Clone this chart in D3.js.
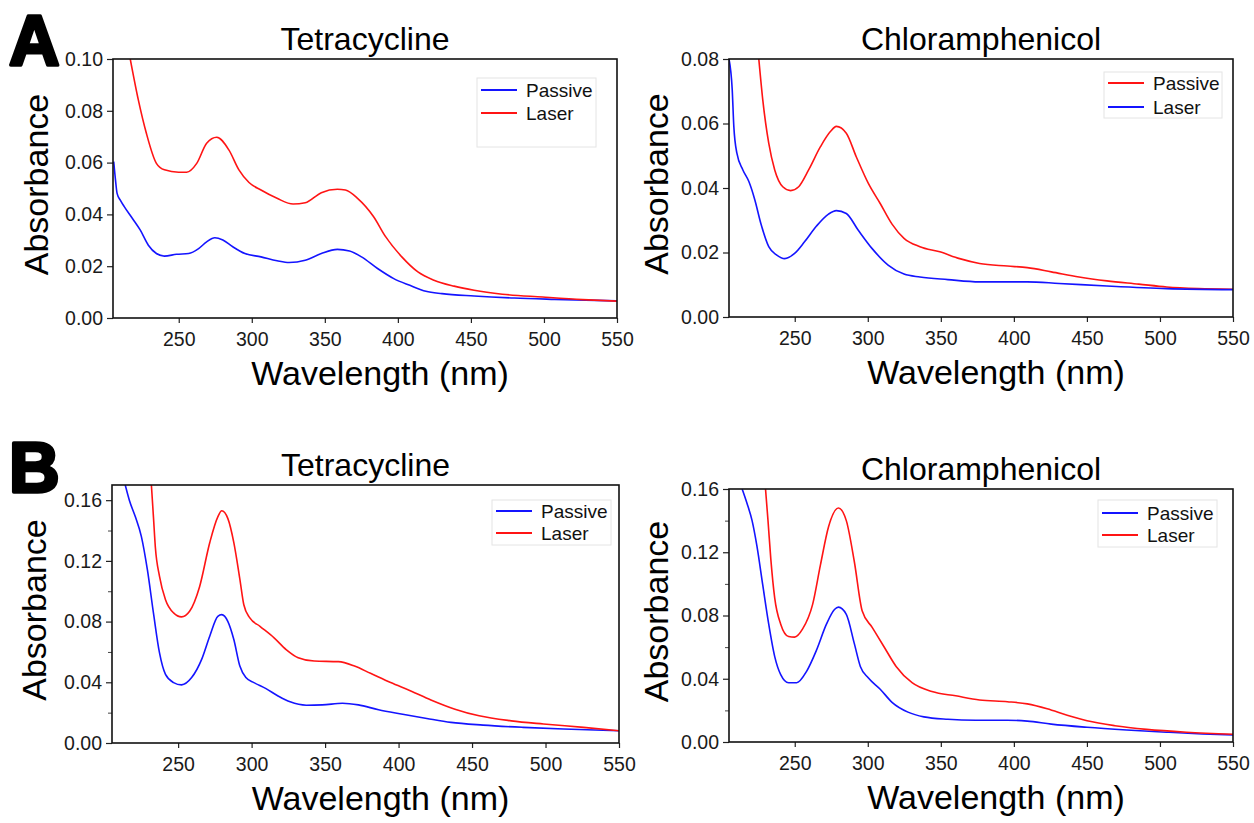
<!DOCTYPE html>
<html>
<head>
<meta charset="utf-8">
<script src="https://cdn.jsdelivr.net/npm/d3@7"></script>
<style>
  html, body { margin: 0; padding: 0; background: #fff; }
  svg { display: block; font-family: "Liberation Sans", Arial, sans-serif; }
</style>
</head>
<body>
<svg id="chart" width="1254" height="823"></svg>
<script>
// ---------------- DATA ----------------
const wavelengthTicks = [250, 300, 350, 400, 450, 500, 550];
const absTicksA_tet = [0.00, 0.02, 0.04, 0.06, 0.08, 0.10];
const absTicksA_chl = [0.00, 0.02, 0.04, 0.06, 0.08];
const absTicksB = [0.00, 0.04, 0.08, 0.12, 0.16];
const absMinorB = [0.02, 0.06, 0.10, 0.14];
const seriesNames = ["Passive", "Laser"];
const titles = ["Tetracycline", "Chloramphenicol"];
const panelLetters = ["A", "B"];

// Panel A, Tetracycline  [wavelength nm, absorbance]
const tetA_passive = [[205.5,0.0604],[206.7,0.0533],[207.8,0.0481],[210,0.0455],[212.7,0.0430],[218.2,0.0385],[223.7,0.0339],[229.2,0.0281],[234.7,0.0249],[240.2,0.0239],[248.5,0.0246],[256.8,0.0249],[263.6,0.0268],[269.1,0.0294],[274.7,0.0310],[280.2,0.0301],[287,0.0275],[295.3,0.0249],[306.3,0.0236],[317.3,0.0221],[325.6,0.0214],[336.6,0.0223],[347.6,0.0249],[358.6,0.0265],[366.9,0.0259],[375.1,0.0236],[386.1,0.0191],[397.2,0.0152],[408.2,0.0126],[419.2,0.0103],[430.2,0.0094],[452.2,0.0085],[479.7,0.0077],[507.3,0.0072],[550,0.0066]];
const tetA_laser = [[216.8,0.100],[222.3,0.0843],[227.8,0.0714],[234.7,0.0597],[240.2,0.0572],[249.9,0.0563],[255.4,0.0563],[262.3,0.0597],[269.1,0.0675],[276,0.0698],[284.3,0.0649],[291.2,0.0572],[298.1,0.0523],[306.3,0.0494],[317.3,0.0462],[328.3,0.0440],[336.6,0.0445],[347.6,0.0484],[358.6,0.0497],[364.1,0.0494],[372.4,0.0462],[383.4,0.0391],[391.6,0.0314],[402.7,0.0236],[413.7,0.0178],[424.7,0.0146],[438.5,0.0123],[452.2,0.0107],[471.5,0.0092],[499,0.0081],[526.5,0.0071],[550,0.0065]];

// Panel A, Chloramphenicol
const chlA_passive = [[225.4,0.080],[228.1,0.0674],[232.2,0.0539],[236.3,0.0456],[241.8,0.0404],[247.2,0.0392],[252.7,0.0404],[259.5,0.0456],[267.6,0.0528],[274.4,0.0575],[278.5,0.0591],[285.3,0.0570],[292.1,0.0497],[300.3,0.0415],[308.5,0.0352],[316.6,0.0288],[324.8,0.0244],[335.7,0.0218],[349.3,0.0202],[362.9,0.0181],[376.5,0.0166],[395.6,0.0158],[409.2,0.0153],[425.6,0.0140],[444.6,0.0124],[463.7,0.0112],[485.5,0.0102],[504.6,0.0093],[526.3,0.0088],[550,0.0086]];
const chlA_laser = [[205,0.080],[207.2,0.0705],[208.3,0.0591],[210.4,0.0508],[214.5,0.0456],[218.6,0.0420],[222.7,0.0363],[226.8,0.0290],[232.2,0.0218],[237.7,0.0192],[243.1,0.0181],[249.9,0.0197],[256.7,0.0233],[264.9,0.0282],[273.1,0.0319],[278.5,0.0330],[285.3,0.0321],[293.5,0.0269],[303,0.0212],[313.9,0.0161],[324.8,0.0133],[335.7,0.0124],[354.8,0.0116],[376.5,0.0109],[409.2,0.0109],[431,0.0104],[463.7,0.0096],[504.6,0.0088],[550,0.0085]];

// Panel B, Tetracycline
const tetB_passive = [[214,0.170],[216.8,0.160],[220.9,0.149],[225,0.136],[229.1,0.114],[233.2,0.0857],[237.3,0.0595],[241.4,0.0452],[246.9,0.0398],[252.3,0.0383],[259.2,0.0431],[266,0.0551],[271.5,0.0704],[277,0.0835],[279.7,0.0846],[283.8,0.0802],[287.9,0.0682],[292,0.0507],[296.1,0.0431],[301.6,0.0398],[309.8,0.0358],[318,0.0310],[326.2,0.0271],[337.2,0.0249],[348.1,0.0251],[361.8,0.0262],[372.7,0.0251],[386.4,0.0219],[402.8,0.0190],[419.2,0.0162],[435.6,0.0136],[457.5,0.0118],[484.9,0.0103],[512.3,0.0092],[550,0.0081]];
const tetB_laser = [[231.8,0.170],[233.2,0.149],[234.5,0.129],[237.3,0.110],[241.4,0.0944],[246.9,0.0857],[252.3,0.0831],[257.8,0.0868],[264.6,0.103],[271.5,0.132],[277,0.149],[279.7,0.153],[283.8,0.148],[287.9,0.132],[292,0.108],[294.7,0.0911],[298.8,0.0824],[305.7,0.0769],[315.3,0.0693],[323.5,0.0616],[331.7,0.0562],[342.6,0.0540],[359,0.0536],[370,0.0507],[380.9,0.0459],[394.6,0.0398],[408.3,0.0343],[422,0.0284],[438.4,0.0223],[454.8,0.0179],[476.7,0.0146],[498.6,0.0125],[525.9,0.0103],[550,0.0081]];

// Panel B, Chloramphenicol
const chlB_passive = [[214,0.160],[217.3,0.151],[220.8,0.140],[224.1,0.124],[228.1,0.0993],[232.2,0.0745],[236.3,0.0540],[240.4,0.0426],[245.8,0.0375],[251.3,0.0375],[258.1,0.0447],[264.9,0.0581],[271.7,0.0745],[277.2,0.0838],[279.9,0.0853],[285.3,0.0807],[290.8,0.0622],[294.9,0.0478],[300.3,0.0406],[308.5,0.0334],[316.6,0.0251],[327.5,0.0189],[338.4,0.0159],[354.8,0.0144],[373.8,0.0138],[395.6,0.0138],[409.2,0.0132],[425.6,0.0113],[450.1,0.0093],[477.3,0.0076],[504.5,0.0062],[529,0.0051],[550,0.0045]];
const chlB_laser = [[230,0.160],[231.7,0.140],[233.6,0.116],[236.3,0.0910],[240.4,0.0745],[245.8,0.0667],[249.9,0.0663],[255.4,0.0715],[262.2,0.0869],[267.6,0.112],[273.1,0.136],[279.9,0.148],[285.3,0.140],[290.8,0.114],[296.2,0.0828],[303,0.0725],[311.2,0.0601],[319.4,0.0478],[330.3,0.0375],[343.9,0.0319],[360.2,0.0292],[376.5,0.0266],[395.6,0.0255],[409.2,0.0241],[422.8,0.0210],[436.5,0.0169],[450.1,0.0134],[469.1,0.0103],[490.9,0.0080],[518.1,0.0062],[550,0.0049]];

// ---------------- LAYOUT ----------------
const BLUE = "#1414ff", RED = "#ff1414";
const xDomain = [205, 550];
const panels = [
  { title: titles[0], letter: panelLetters[0], frame: {l:113, r:617, t:59, b:318}, yMax: 0.10, yTicks: absTicksA_tet, yMinor: [], fmt: ".2f",
    series: [{name: seriesNames[0], color: BLUE, data: tetA_passive}, {name: seriesNames[1], color: RED, data: tetA_laser}],
    legend: {x:477, y:78, w:119, h:69, row0:90, gap:23}, ylabX: 48 },
  { title: titles[1], frame: {l:729, r:1233, t:59, b:317}, yMax: 0.08, yTicks: absTicksA_chl, yMinor: [], fmt: ".2f",
    series: [{name: seriesNames[0], color: RED, data: chlA_passive}, {name: seriesNames[1], color: BLUE, data: chlA_laser}],
    legend: {x:1104, y:72, w:118, h:46, row0:83, gap:24}, ylabX: 668 },
  { title: titles[0], letter: panelLetters[1], frame: {l:112, r:619, t:485, b:743}, yMax: 0.17, yTicks: absTicksB, yMinor: absMinorB, fmt: ".2f",
    series: [{name: seriesNames[0], color: BLUE, data: tetB_passive}, {name: seriesNames[1], color: RED, data: tetB_laser}],
    legend: {x:492, y:500, w:119, h:45, row0:511, gap:22}, ylabX: 46 },
  { title: titles[1], frame: {l:729, r:1233, t:489, b:742}, yMax: 0.16, yTicks: absTicksB, yMinor: absMinorB, fmt: ".2f",
    series: [{name: seriesNames[0], color: BLUE, data: chlB_passive}, {name: seriesNames[1], color: RED, data: chlB_laser}],
    legend: {x:1098, y:500, w:119, h:47, row0:513, gap:22}, ylabX: 668 }
];

const svg = d3.select("#chart");
svg.append("rect").attr("width", 1254).attr("height", 823).attr("fill", "#fff");

panels.forEach((p, i) => {
  const f = p.frame;
  const x = d3.scaleLinear().domain(xDomain).range([f.l, f.r]);
  const y = d3.scaleLinear().domain([0, p.yMax]).range([f.b, f.t]);
  const g = svg.append("g");

  const clipId = "clip" + i;
  svg.append("clipPath").attr("id", clipId)
    .append("rect").attr("x", f.l).attr("y", f.t).attr("width", f.r - f.l).attr("height", f.b - f.t);

  // lines
  const line = d3.line().x(d => x(d[0])).y(d => y(d[1])).curve(d3.curveMonotoneX);
  p.series.forEach(s => {
    g.append("path").datum(s.data)
      .attr("clip-path", `url(#${clipId})`)
      .attr("fill", "none").attr("stroke", s.color)
      .attr("stroke-width", 1.6).attr("stroke-linejoin", "round")
      .attr("d", line);
  });

  // x axis
  const xa = g.append("g").attr("transform", `translate(0,${f.b})`)
    .call(d3.axisBottom(x).tickValues(wavelengthTicks).tickSize(5).tickPadding(9).tickFormat(d3.format("d")));
  xa.select(".domain").remove();
  xa.selectAll("line").attr("stroke", "#222").attr("stroke-width", 1.2);
  xa.selectAll("text").attr("font-size", 19.5).attr("fill", "#1a1a1a")
    .attr("font-family", "Liberation Sans, Arial, sans-serif");

  // y axis
  const ya = g.append("g").attr("transform", `translate(${f.l},0)`)
    .call(d3.axisLeft(y).tickValues(p.yTicks).tickSize(6).tickPadding(4).tickFormat(d3.format(p.fmt)));
  ya.select(".domain").remove();
  ya.selectAll("line").attr("stroke", "#222").attr("stroke-width", 1.2);
  ya.selectAll("text").attr("font-size", 19.5).attr("fill", "#1a1a1a")
    .attr("font-family", "Liberation Sans, Arial, sans-serif");
  if (p.yMinor.length) {
    const ym = g.append("g").attr("transform", `translate(${f.l},0)`)
      .call(d3.axisLeft(y).tickValues(p.yMinor).tickSize(4).tickFormat(""));
    ym.select(".domain").remove();
    ym.selectAll("line").attr("stroke", "#444").attr("stroke-width", 1);
  }

  // frame
  g.append("rect").attr("x", f.l).attr("y", f.t).attr("width", f.r - f.l).attr("height", f.b - f.t)
    .attr("fill", "none").attr("stroke", "#111").attr("stroke-width", 1.6);

  // title
  g.append("text").attr("x", (f.l + f.r) / 2).attr("y", f.t - 9)
    .attr("text-anchor", "middle").attr("font-size", 32).attr("fill", "#000").text(p.title);

  // x label
  g.append("text").attr("x", (f.l + f.r) / 2 + 15).attr("y", f.b + 67)
    .attr("text-anchor", "middle").attr("font-size", 34).attr("fill", "#000").text("Wavelength (nm)");

  // y label
  g.append("text").attr("transform", `translate(${p.ylabX},${(f.t + f.b) / 2 - 4}) rotate(-90)`)
    .attr("text-anchor", "middle").attr("font-size", 34).attr("fill", "#000").text("Absorbance");

  // legend
  const L = p.legend;
  g.append("rect").attr("x", L.x).attr("y", L.y).attr("width", L.w).attr("height", L.h)
    .attr("fill", "#fff").attr("stroke", "#e4e4e4").attr("stroke-width", 1);
  p.series.forEach((s, k) => {
    const yy = L.row0 + k * L.gap;
    g.append("line").attr("x1", L.x + 4).attr("x2", L.x + 40).attr("y1", yy).attr("y2", yy)
      .attr("stroke", s.color).attr("stroke-width", 1.8);
    g.append("text").attr("x", L.x + 49).attr("y", yy).attr("dy", "0.35em")
      .attr("font-size", 19).attr("fill", "#111").text(s.name);
  });

  // panel letter
  if (p.letter) {
    g.append("text").attr("x", 9).attr("y", f.t + (i === 0 ? 6 : 7))
      .attr("font-size", 70).attr("font-weight", 900).attr("fill", "#000")
      .attr("stroke", "#000").attr("stroke-width", 3.5).attr("stroke-linejoin", "round").text(p.letter);
  }
});
</script>
</body>
</html>
